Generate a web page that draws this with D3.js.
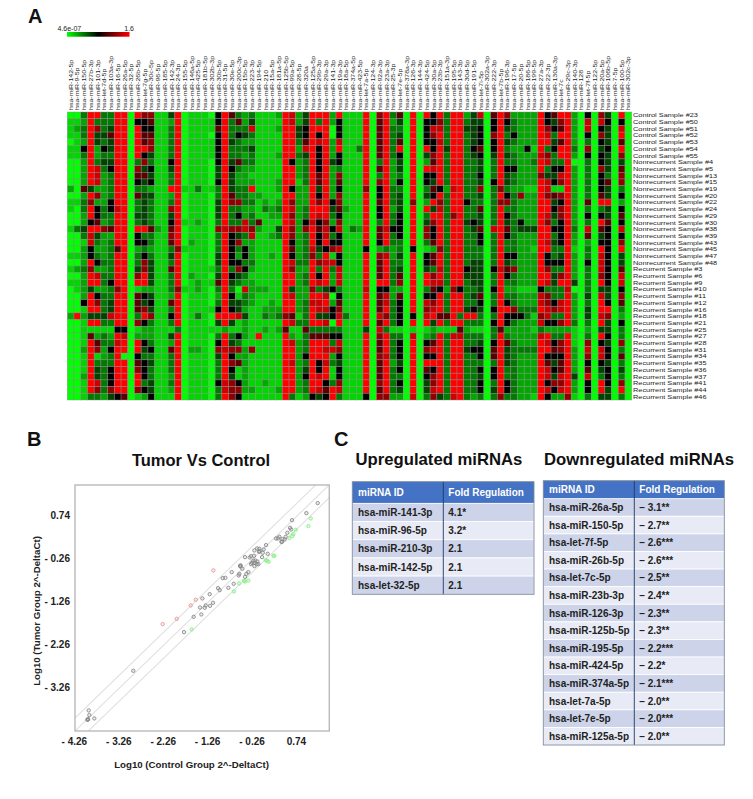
<!DOCTYPE html>
<html><head><meta charset="utf-8">
<script src="https://cdnjs.cloudflare.com/ajax/libs/d3/7.8.5/d3.min.js"></script>
<style>html,body{margin:0;background:#fff}svg{display:block}text{font-family:"Liberation Sans",Arial,sans-serif}</style>
</head><body><svg id="c" width="753" height="799"></svg>
<script>
const mirnas=["hsa-miR-142-5p","hsa-miR-9-5p","hsa-miR-150-5p","hsa-miR-27b-3p","hsa-miR-101-3p","hsa-let-7d-5p","hsa-miR-103a-3p","hsa-miR-16-5p","hsa-miR-26a-5p","hsa-miR-32-5p","hsa-miR-26b-5p","hsa-let-7g-5p","hsa-miR-30c-5p","hsa-miR-96-5p","hsa-miR-185-5p","hsa-miR-142-3p","hsa-miR-24-3p","hsa-miR-155-5p","hsa-miR-146a-5p","hsa-miR-425-5p","hsa-miR-181b-5p","hsa-miR-302b-3p","hsa-miR-30b-5p","hsa-miR-31-5p","hsa-miR-30e-5p","hsa-miR-200c-3p","hsa-miR-15b-5p","hsa-miR-223-3p","hsa-miR-194-5p","hsa-miR-210","hsa-miR-15a-5p","hsa-miR-181a-5p","hsa-miR-125b-5p","hsa-miR-99a-5p","hsa-miR-28-5p","hsa-miR-320a","hsa-miR-125a-5p","hsa-miR-29b-3p","hsa-miR-29a-3p","hsa-miR-141-3p","hsa-miR-19a-3p","hsa-miR-18a-5p","hsa-miR-374a-5p","hsa-miR-423-5p","hsa-let-7a-5p","hsa-miR-124-3p","hsa-miR-92a-3p","hsa-miR-23a-3p","hsa-miR-25-3p","hsa-let-7e-5p","hsa-miR-378a-3p","hsa-miR-126-3p","hsa-miR-144-3p","hsa-miR-424-5p","hsa-miR-30a-5p","hsa-miR-23b-3p","hsa-miR-151a-3p","hsa-miR-195-5p","hsa-miR-143-3p","hsa-miR-30d-5p","hsa-miR-191-5p","hsa-let-7i-5p","hsa-miR-302a-3p","hsa-miR-222-3p","hsa-let-7b-5p","hsa-miR-196-3p","hsa-miR-17-5p","hsa-miR-20-5p","hsa-miR-186-5p","hsa-miR-199-5p","hsa-miR-27a-3p","hsa-miR-22-3p","hsa-miR-130a-3p","hsa-let-7c","hsa-miR-29c-3p","hsa-miR-140-3p","hsa-miR-128","hsa-let-7f-5p","hsa-miR-122-5p","hsa-miR-20a-5p","hsa-miR-106b-5p","hsa-miR-7-5p","hsa-miR-100-5p","hsa-miR-302c-3p"];
const samples=["Control Sample #23","Control Sample #50","Control Sample #51","Control Sample #52","Control Sample #53","Control Sample #54","Control Sample #55","Nonrecurrent Sample #4","Nonrecurrent Sample #5","Nonrecurrent Sample #13","Nonrecurrent Sample #15","Nonrecurrent Sample #19","Nonrecurrent Sample #20","Nonrecurrent Sample #22","Nonrecurrent Sample #24","Nonrecurrent Sample #29","Nonrecurrent Sample #30","Nonrecurrent Sample #38","Nonrecurrent Sample #39","Nonrecurrent Sample #43","Nonrecurrent Sample #45","Nonrecurrent Sample #47","Nonrecurrent Sample #48","Recurrent Sample #3","Recurrent Sample #6","Recurrent Sample #9","Recurrent Sample #10","Recurrent Sample #11","Recurrent Sample #12","Recurrent Sample #16","Recurrent Sample #18","Recurrent Sample #21","Recurrent Sample #25","Recurrent Sample #27","Recurrent Sample #28","Recurrent Sample #31","Recurrent Sample #34","Recurrent Sample #35","Recurrent Sample #36","Recurrent Sample #37","Recurrent Sample #41","Recurrent Sample #44","Recurrent Sample #46"];
// expression level per cell, 0 (lowest) .. 9 (highest), one string per sample
const expression=[
"0039933990 9771149011 1059632311 1298249992 9111 9079360909 5939924806 9722229569 9205074090",
"1129333990 5561129011 1159362411 1198249392 5111 9069240905 5739934405 9532229547 9208085050",
"1239734990 9551139011 1169333811 1299459990 5111 9069330905 8839944505 9432229756 9208054080",
"1139446990 9661139011 1059354311 1199459590 5111 9069340905 7939934507 9352229839 9205074090",
"0129434990 9671139011 1159432211 1199369892 8111 9069360905 5839934505 9432229946 9203054060",
"1159254990 9971139011 1159333411 1199289592 9113 9069390909 5949935605 9322519359 9307045090",
"1139233990 9541139011 1159332311 1299349592 5111 9069350904 7939934504 9432228739 9205054070",
"0029344990 3731159011 1059463311 1195239594 5111 9039240902 6939933403 9332239833 9003054040",
"0029835990 7451149011 1049532211 1199239592 3111 9069240909 8939933403 9552229355 9203074060",
"0029823990 6641139011 1049422111 1199239692 7111 9039230905 5939933503 9432227448 9203053070",
"0029823990 5451139011 1059422211 1299139692 6111 9079250905 4939933405 9432229857 9203056070",
"2064223990 3321199113 1139433911 1295229492 5111 7059330903 6528933703 7322119811 9203054030",
"0029723990 6441129011 1039633221 1199229592 7111 9059340904 5939933403 9537229767 9203064050",
"1137225990 3431139011 1049773312 1297229795 7111 9069340702 9739953303 7732229945 9206099020",
"1039535890 3431179011 1049332213 2398239994 6211 9059240909 4839933603 9332229957 9203034050",
"0029533990 4431149011 1049352311 2297239893 5111 9059350903 9937933403 9532229847 9205054060",
"0025623990 3431159112 1039338361 1198258572 7111 9039350904 7939945403 9435229735 9203096050",
"1349976990 9962169011 1078778721 1497279685 8132 9068550907 5939934608 9634449955 9308065080",
"0038422990 5331179011 1039543811 2397239583 5111 9069350907 5939933503 9532229935 9206045050",
"0018323990 5531169021 1039572211 1195239595 5111 9059330903 6939933503 9332229845 9202055070",
"0025223690 2321137111 1039535211 1196238457 8111 5023230501 2739933303 9332219933 9103095090",
"1125323990 3531149011 1049525211 2195237391 5111 9078240905 6939933303 9552229534 9203085040",
"0029533990 3741139011 1049553311 1198339788 5111 9069330905 6939934403 9432229555 9205085040",
"1237223990 4741169011 1139375211 1197229393 8111 9069340904 3839954405 8672229733 9203085060",
"0029833990 7941139021 1049543111 1199239592 8111 9069360909 7939944403 9532229947 9203075080",
"1129935990 9941139012 1169432211 1199239892 8111 9099370909 8839934403 9332229849 9403095080",
"0124223790 1221137112 1039308222 1194227345 3111 8055220903 6527533405 9221115333 8003044050",
"0029533990 6541129011 1029513211 1198229980 5111 9068260905 5939934603 9332228733 9204084070",
"0059734990 6451169011 1039443211 2199238892 6111 9068350908 7939933503 9532228758 9203095060",
"0019934990 6741139011 1159542112 2299239885 7111 9069350907 8939945405 9973339878 9204099030",
"2924448990 3971159013 1099984113 2376139445 8311 9087350508 9669399303 9555317833 9204087020",
"0019933990 7531139011 1049412111 1198339980 9111 9069350909 4939933305 9532228557 9303094050",
"0011111550 1221113011 1112112112 1261163333 3111 4083110101 2111621103 6222213222 2102044030",
"0016232980 2221149011 1039352191 1192136665 5111 9079330802 3938833303 9322228933 9103095030",
"0019633890 9531129011 1059431111 1198239993 8111 9069350905 6939933405 9632229857 9107054070",
"0029725990 9451169022 1078772711 1199239988 7111 9069350907 8939945506 9433339967 9208085030",
"0019123900 5331139011 1049522111 1199259992 5111 9078350905 5939933506 9432229555 9207085060",
"0019333990 6541139011 1039762111 1198239583 4111 9069240909 9939933303 9432229646 9205054030",
"0019435990 7531139011 1039512111 1199249591 5111 9069350906 5939933505 9332229856 9206045040",
"0029435990 9531129011 1039412111 1199259891 5111 9069330905 7939933405 9332229848 9408035030",
"0019835990 9341139011 1058752112 1199239953 7111 9079350904 7939933503 9532229577 9205095070",
"0019737990 7541129011 1038772211 1299239869 8111 9069340904 8939933504 9532229858 9205094090",
"0013324560 1251119011 1039751111 1193125459 3111 5077220803 7438932303 7332219522 7103044030"];
const barLabels=["4.6e-07","1.6"];
// scatter: log10 values [control, tumor]
const grayPts=[[-1.825,-1.981],[-1.608,-1.625],[-1.435,-1.570],[-1.465,-1.408],[-1.360,-1.415],[-1.337,-1.361],[-1.240,-1.369],[-1.172,-1.299],[-1.412,-1.198],[-1.247,-1.098],[-1.059,-0.958],[-1.022,-1.005],[-0.827,-0.950],[-0.707,-0.857],[-0.954,-0.726],[-0.894,-0.718],[-0.752,-0.586],[-0.594,-0.663],[-0.579,-0.625],[-0.451,-0.695],[-0.421,-0.625],[-0.376,-0.586],[-0.511,-0.508],[-0.564,-0.439],[-0.549,-0.431],[-0.555,-0.455],[-0.451,-0.237],[-0.346,-0.245],[-0.316,-0.214],[-0.249,-0.206],[-0.241,-0.082],[-0.181,-0.036],[-0.129,-0.043],[-0.136,-0.113],[-0.120,-0.100],[-0.053,-0.136],[-0.031,-0.059],[0.022,0.042],[0.059,-0.160],[-0.068,-0.237],[-0.264,-0.322],[-0.219,-0.315],[-0.174,-0.338],[-0.294,-0.369],[-0.234,-0.369],[-0.189,-0.400],[-0.151,-0.400],[-0.316,-0.400],[-0.241,-0.446],[0.247,0.197],[0.292,0.197],[0.322,0.236],[0.382,0.119],[0.367,0.119],[0.389,0.181],[0.442,0.174],[0.464,0.236],[0.502,0.329],[0.562,0.445],[0.585,0.406],[0.607,0.623],[0.930,0.786],[1.185,1.019],[-2.967,-2.880],[-3.972,-3.802],[-3.957,-3.911],[-3.845,-3.988],[-3.995,-4.012],[-3.985,-4.005],[-4.000,-4.020]];
const redPts=[[-1.165,-0.547],[-1.562,-1.229],[-1.675,-1.361],[-1.990,-1.671],[-2.306,-1.795]];
const greenPts=[[-1.653,-1.919],[-0.699,-1.036],[-0.587,-0.850],[-0.474,-0.788],[-0.451,-0.803],[-0.376,-0.780],[0.014,-0.307],[0.044,-0.322],[0.082,-0.346],[0.187,-0.206],[0.209,-0.206],[0.547,0.205],[0.615,0.251],[0.637,0.298],[0.690,0.398],[0.975,0.484],[1.028,0.662]];
const axisTicks=[-4.26,-3.26,-2.26,-1.26,-0.26,0.74];
const foldLines=[0.301,0,-0.301];
const upIds=["hsa-miR-141-3p","hsa-miR-96-5p","hsa-miR-210-3p","hsa-miR-142-5p","hsa-let-32-5p"];
const upFolds=["4.1*","3.2*","2.1","2.1","2.1"];
const downIds=["hsa-miR-26a-5p","hsa-miR-150-5p","hsa-let-7f-5p","hsa-miR-26b-5p","hsa-let-7c-5p","hsa-miR-23b-3p","hsa-miR-126-3p","hsa-miR-125b-5p","hsa-miR-195-5p","hsa-miR-424-5p","hsa-miR-374a-5p","hsa-let-7a-5p","hsa-let-7e-5p","hsa-miR-125a-5p"];
const downFolds=["– 3.1**","– 2.7**","– 2.6***","– 2.6***","– 2.5**","– 2.4**","– 2.3**","– 2.3**","– 2.2***","– 2.2*","– 2.1***","– 2.0**","– 2.0***","– 2.0**"];

const svg=d3.select("#c");
const panel=(t,x,y)=>svg.append("text").attr("x",x).attr("y",y).attr("font-size",20).attr("font-weight","bold").attr("fill","#111").text(t);
panel("A",28,23);panel("B",27,446);panel("C",334,446);

/* ---------- A heatmap ---------- */
const matrix=expression.map(s=>s.replace(/ /g,"").split("").map(Number));
const hx=d3.scaleBand().domain(d3.range(mirnas.length)).range([67.3,631.7]);
const hy=d3.scaleBand().domain(d3.range(samples.length)).range([112,400]);
const col=d3.scaleLinear().domain([0,1,2,3,4,5,6,7,8,9]).range(["#00ff00","#00d600","#00a800","#007a00","#004400","#000000","#5a0000","#900000","#cc0000","#ff0000"]);
const hm=svg.append("g");
matrix.forEach((r,i)=>hm.selectAll(null).data(r).enter().append("rect")
  .attr("x",(d,j)=>hx(j)).attr("y",hy(i)).attr("width",hx.bandwidth()).attr("height",hy.bandwidth())
  .attr("fill",d=>col(d)).attr("stroke","#8a8a8a").attr("stroke-opacity",.7).attr("stroke-width",.6));
svg.append("g").selectAll("text").data(mirnas).enter().append("text")
  .attr("transform",(d,i)=>`translate(${hx(i)+hx.bandwidth()/2+2.1},110) rotate(-90) scale(1.22,1)`)
  .attr("font-size",5.75).attr("fill","#222").text(d=>d);
svg.append("g").selectAll("text").data(samples).enter().append("text")
  .attr("transform",(d,i)=>`translate(633,${hy(i)+hy.bandwidth()/2+2}) scale(1.28,1)`)
  .attr("font-size",5.75).attr("fill","#222").text(d=>d);
const grad=svg.append("defs").append("linearGradient").attr("id","bar");
grad.selectAll("stop").data([0,.5,1]).enter().append("stop").attr("offset",d=>d).attr("stop-color",d=>col(d*9===4.5?5:d*9));
svg.append("rect").attr("x",67).attr("y",32).attr("width",62.5).attr("height",4.7).attr("fill","url(#bar)");
svg.append("text").attr("x",57.5).attr("y",31).attr("font-size",7).attr("fill","#222").text(barLabels[0]);
svg.append("text").attr("x",134).attr("y",31).attr("text-anchor","end").attr("font-size",7).attr("fill","#222").text(barLabels[1]);

/* ---------- B scatter ---------- */
const L=75,R=329.3,T=485,B=731;
const sx=d3.scaleLinear().domain([-4.28,1.446]).range([L,R]);
const sy=d3.scaleLinear().domain([-4.28,1.44]).range([B,T]);
svg.append("text").attr("x",201).attr("y",466).attr("text-anchor","middle").attr("font-size",16.5).attr("font-weight","bold").attr("fill","#111").text("Tumor Vs Control");
svg.append("clipPath").attr("id","pc").append("rect").attr("x",L).attr("y",T).attr("width",R-L).attr("height",B-T);
const plot=svg.append("g").attr("clip-path","url(#pc)");
plot.selectAll("line").data(foldLines).enter().append("line")
  .attr("x1",sx(-4.28)).attr("x2",sx(1.446)).attr("y1",d=>sy(-4.28+d)).attr("y2",d=>sy(1.446+d))
  .attr("stroke","#e0e0e0").attr("stroke-width",1.1);
[[grayPts,"#858585","rgba(150,150,150,.2)"],[redPts,"#e88f8f","rgba(240,150,150,.15)"],[greenPts,"#88f088","rgba(130,240,130,.3)"]].forEach(([pts,st,fi])=>
  plot.append("g").selectAll("circle").data(pts).enter().append("circle")
    .attr("cx",d=>sx(d[0])).attr("cy",d=>sy(d[1])).attr("r",1.7).attr("fill",fi).attr("stroke",st).attr("stroke-width",.85));
svg.append("rect").attr("x",L).attr("y",T).attr("width",R-L).attr("height",B-T).attr("fill","none").attr("stroke","#b9b9b9").attr("stroke-width",1.4);
const fmt=v=>v<0?"- "+Math.abs(v).toFixed(2):v.toFixed(2);
const ax=svg.append("g").attr("transform",`translate(0,${B})`).call(d3.axisBottom(sx).tickValues(axisTicks).tickFormat(fmt).tickSize(0).tickPadding(6.5));
const ay=svg.append("g").attr("transform",`translate(${L},0)`).call(d3.axisLeft(sy).tickValues(axisTicks.slice(1)).tickFormat(fmt).tickSize(0).tickPadding(5));
[ax,ay].forEach(a=>{a.select(".domain").remove();a.selectAll("text").attr("font-size",10).attr("font-weight","bold").attr("fill","#222").attr("font-family",'"Liberation Sans",Arial,sans-serif');});
ax.selectAll("text").attr("dx",-2);
svg.append("text").attr("x",191.5).attr("y",767.5).attr("text-anchor","middle").attr("font-size",9.7).attr("font-weight","bold").attr("fill","#222").text("Log10 (Control Group 2^-DeltaCt)");
svg.append("text").attr("transform","translate(40,611) rotate(-90)").attr("text-anchor","middle").attr("font-size",9.7).attr("font-weight","bold").attr("fill","#222").text("Log10 (Tumor Group 2^-DeltaCt)");

/* ---------- C tables ---------- */
function table(title,tx,ids,folds,x0,x1,xs,y0,yh,y1){
  svg.append("text").attr("x",tx).attr("y",465).attr("font-size",16.7).attr("font-weight","bold").attr("fill","#111").text(title);
  const g=svg.append("g");
  const ry=d3.scaleBand().domain(d3.range(ids.length)).range([yh,y1]);
  g.append("rect").attr("x",x0).attr("y",y0).attr("width",x1-x0).attr("height",yh-y0).attr("fill","#4472c4");
  ids.forEach((id,i)=>{
    g.append("rect").attr("x",x0).attr("y",ry(i)).attr("width",x1-x0).attr("height",ry.bandwidth()).attr("fill",i%2?"#e8ebf5":"#cdd4ea").attr("stroke","#fff").attr("stroke-width",.8);
    g.append("text").attr("x",x0+5.7).attr("y",ry(i)+ry.bandwidth()/2+3.5).attr("font-size",10).attr("font-weight","bold").attr("fill","#222").text(id);
    g.append("text").attr("x",xs+5).attr("y",ry(i)+ry.bandwidth()/2+3.5).attr("font-size",10).attr("font-weight","bold").attr("fill","#222").text(folds[i]);
  });
  g.append("text").attr("x",x0+5.7).attr("y",(y0+yh)/2+3.5).attr("font-size",10).attr("font-weight","bold").attr("fill","#fff").text("miRNA ID");
  g.append("text").attr("x",xs+5).attr("y",(y0+yh)/2+3.5).attr("font-size",10).attr("font-weight","bold").attr("fill","#fff").text("Fold Regulation");
  g.append("line").attr("x1",xs).attr("x2",xs).attr("y1",y0).attr("y2",y1).attr("stroke","#1f3864").attr("stroke-width",.9);
  g.append("rect").attr("x",x0).attr("y",y0).attr("width",x1-x0).attr("height",y1-y0).attr("fill","none").attr("stroke","#7f8a9c").attr("stroke-width",.9);
}
table("Upregulated miRNAs",355.5,upIds,upFolds,352.3,534,443.3,481.7,503.3,594.3);
table("Downregulated miRNAs",544,downIds,downFolds,543.3,724.3,634.3,480.7,498.7,745);
</script></body></html>
